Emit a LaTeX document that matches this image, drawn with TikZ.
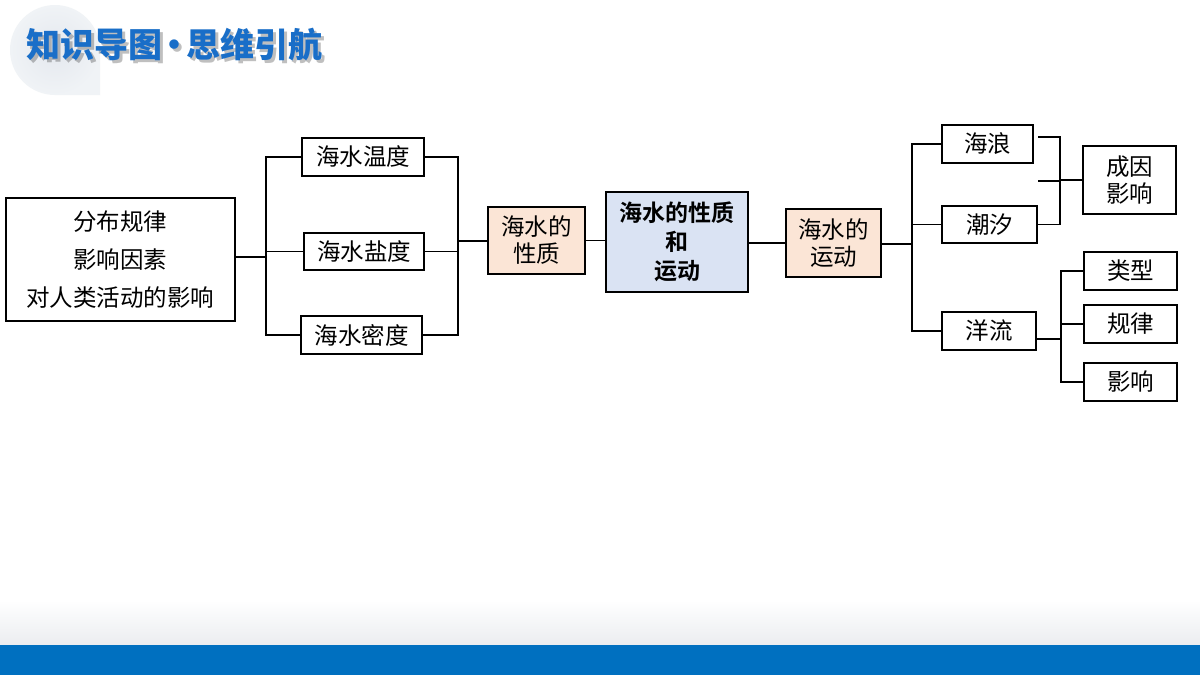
\documentclass[tikz,border=0pt]{standalone}
\usepackage{fontspec}
\newfontfamily\cjk{Noto Sans CJK SC}
\newfontfamily\cjkb{Noto Sans CJK SC Black}
\newfontfamily\cjkbo{Noto Sans CJK SC Bold}
\definecolor{peachc}{RGB}{251,229,214}
\definecolor{bluec}{RGB}{218,227,243}
\definecolor{barc}{RGB}{0,112,192}
\definecolor{titc}{RGB}{25,110,200}
\definecolor{grayc}{RGB}{235,237,240}
\definecolor{circin}{RGB}{228,232,238}
\definecolor{circout}{RGB}{240,243,246}
\begin{document}
\begin{tikzpicture}[x=1pt,y=-1pt,
  box/.style={draw=black,line width=1.2pt,minimum width=#1,inner sep=0pt,font=\cjk\fontsize{23.5}{27}\selectfont,align=center},
  peach/.style={fill=peachc},
  ln/.style={line width=1.3pt}]
\useasboundingbox (0,0) rectangle (1200,675);
\fill[white] (0,0) rectangle (1200,675);
\shade[top color=white,bottom color=grayc] (0,600) rectangle (1200,645);
\fill[barc] (0,645) rectangle (1200,675);
\shade[inner color=circin,outer color=circout] (100,95) -- (100,50) arc[start angle=0,end angle=-270,radius=45] -- cycle;
\def\ttl{知识导图\hspace{-5pt}•\hspace{-5pt}思维引航}
\node[anchor=west,text=black,opacity=0.25,font=\cjkb\fontsize{34}{36}\selectfont] at (26,48) {\ttl};
\node[anchor=west,text=titc,font=\cjkb\fontsize{34}{36}\selectfont] (title) at (23,45) {\ttl};
% left
\node[box=229pt,minimum height=123pt,font=\cjk\fontsize{23.5}{38}\selectfont] (L) at (120.5,259.5) {分布规律\\影响因素\\对人类活动的影响};
\node[box=122pt,minimum height=38pt] (t1) at (363,157) {海水温度};
\node[box=120pt,minimum height=37pt] (t2) at (364,251.5) {海水盐度};
\node[box=121pt,minimum height=38pt] (t3) at (361.5,335) {海水密度};
\node[box=97pt,minimum height=67pt,peach] (P) at (536.5,240.5) {海水的\\性质};
\node[box=142pt,minimum height=100pt,fill=bluec,font=\cjkbo\fontsize{23}{29}\selectfont] (C) at (677,242) {海水的性质\\和\\运动};
\node[box=95pt,minimum height=68pt,peach] (M) at (833.5,243) {海水的\\运动};
\node[box=91pt,minimum height=38pt] (w1) at (987.5,144) {海浪};
\node[box=95pt,minimum height=37pt] (w2) at (989.5,224.5) {潮汐};
\node[box=94pt,minimum height=38pt] (w3) at (989,331) {洋流};
\node[box=93pt,minimum height=68pt] (r1) at (1129.5,180) {成因\\影响};
\node[box=93pt,minimum height=38pt] (r2) at (1130.5,271) {类型};
\node[box=93pt,minimum height=38pt] (r3) at (1130.5,324) {规律};
\node[box=93pt,minimum height=38pt] (r4) at (1130.5,382) {影响};
% connectors
\coordinate (a) at (266,257);
\draw[ln] (L.east |- a) -- (a);
\draw[ln] (t1.west) -| (a) |- (t3.west);
\draw[ln] (a |- t2.west) -- (t2.west);
\coordinate (b) at (458,241);
\draw[ln] (t1.east) -| (b) |- (t3.east);
\draw[ln] (t2.east) -- (t2.east -| b);
\draw[ln] (b) -- (P.west |- b);
\draw[ln] (P.east) -- (C.west |- P.east);
\draw[ln] (C.east |- M.west) -- (M.west);
\coordinate (c) at (912,244);
\draw[ln] (M.east |- c) -- (c);
\draw[ln] (w1.west) -| (c) |- (w3.west);
\draw[ln] (c |- w2.west) -- (w2.west);
\coordinate (d) at (1060,180);
\coordinate (d1) at (1038,137);
\coordinate (d2) at (1038,181);
\draw[ln] (d1) -- (d1 -| d) -- (d |- w2.east) -- (w2.east);
\draw[ln] (d2) -- (d2 -| d);
\draw[line width=2pt] (d) -- (r1.west |- d);
\coordinate (e) at (1061,339);
\draw[ln] (w3.east |- e) -- (e);
\draw[ln] (r2.west) -| (e) |- (r4.west);
\draw[ln] (e |- r3.west) -- (r3.west);
\end{tikzpicture}
\end{document}
